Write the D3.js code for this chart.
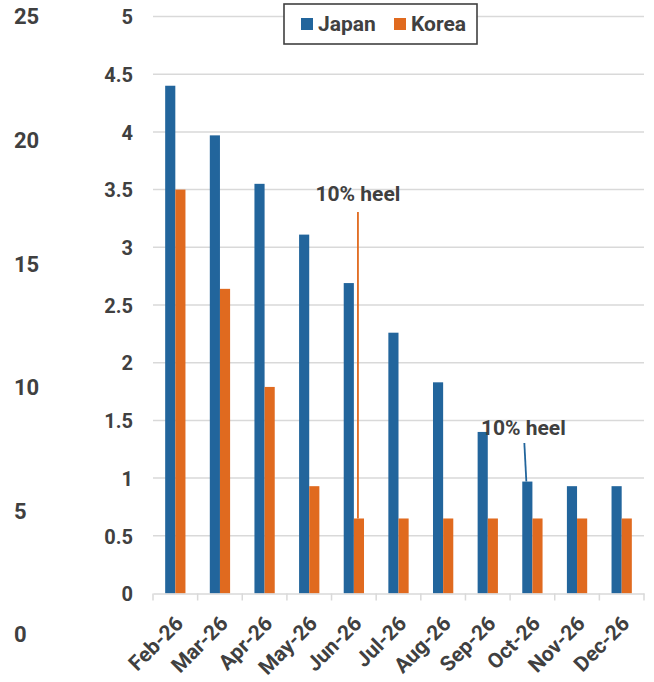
<!DOCTYPE html>
<html>
<head>
<meta charset="utf-8">
<script src="https://cdn.jsdelivr.net/npm/d3@7"></script>
<style>
  html, body { margin: 0; padding: 0; background: #fff; }
  svg text { font-family: Roboto, "Noto Sans", sans-serif; font-weight: 700; fill: #404040; }
</style>
</head>
<body>
<svg id="chart" width="654" height="682"></svg>
<script>
// Monthly values per series
const months = ["Feb-26", "Mar-26", "Apr-26", "May-26", "Jun-26", "Jul-26",
                "Aug-26", "Sep-26", "Oct-26", "Nov-26", "Dec-26"];
const seriesNames = ["Japan", "Korea"];
const japanValues = [4.40, 3.97, 3.55, 3.11, 2.69, 2.26, 1.83, 1.40, 0.97, 0.93, 0.93];
const koreaValues = [3.50, 2.64, 1.79, 0.93, 0.65, 0.65, 0.65, 0.65, 0.65, 0.65, 0.65];
const seriesColors = ["#22659c", "#e06a1f"];

// Axis tick labels
const primaryTicks = [0, 0.5, 1, 1.5, 2, 2.5, 3, 3.5, 4, 4.5, 5];
const primaryTickLabels = ["0", "0.5", "1", "1.5", "2", "2.5", "3", "3.5", "4", "4.5", "5"];
const secondaryTicks = [0, 5, 10, 15, 20, 25];

// Callouts: label, month, series
const calloutTexts = ["10% heel", "10% heel"];
const calloutMonths = ["Jun-26", "Oct-26"];
const calloutSeries = ["Korea", "Japan"];

const valuesBySeries = { Japan: japanValues, Korea: koreaValues };
const rows = months.map((m, i) => ({ month: m, Japan: japanValues[i], Korea: koreaValues[i] }));

const svg = d3.select("#chart");
const plot = { left: 153, right: 644, top: 16.5, bottom: 593.5 };

const x0 = d3.scaleBand().domain(months).range([plot.left, plot.right]).padding(0);
const x1 = d3.scaleBand().domain(seriesNames).range([0, x0.bandwidth()])
  .paddingInner(0).paddingOuter(1.2);
const y = d3.scaleLinear().domain([0, 5]).range([plot.bottom, plot.top]);
const y2 = d3.scaleLinear().domain([0, 25]).range([634, 16]);
const color = d3.scaleOrdinal().domain(seriesNames).range(seriesColors);

// Horizontal gridlines
svg.append("g")
  .selectAll("line")
  .data(primaryTicks.filter(t => t > 0))
  .join("line")
  .attr("x1", plot.left).attr("x2", plot.right)
  .attr("y1", d => y(d)).attr("y2", d => y(d))
  .attr("stroke", "#d9d9d9").attr("stroke-width", 1.5);

// Primary value axis (labels only)
const yAxis = svg.append("g")
  .attr("transform", `translate(${plot.left - 20},0)`)
  .call(d3.axisLeft(y).tickValues(primaryTicks)
    .tickFormat((d, i) => primaryTickLabels[i]).tickSize(0).tickPadding(0));
yAxis.select(".domain").remove();
yAxis.selectAll("text").style("font-size", "20px").attr("dy", "0.36em");

// Secondary axis labels on the far left
const y2Axis = svg.append("g")
  .attr("transform", "translate(14,0)")
  .call(d3.axisRight(y2).tickValues(secondaryTicks).tickSize(0).tickPadding(0));
y2Axis.select(".domain").remove();
y2Axis.selectAll("text").style("font-size", "22px").attr("dy", "0.36em")
  .attr("text-anchor", "start");

// Bars
const groups = svg.append("g")
  .selectAll("g")
  .data(rows)
  .join("g")
  .attr("transform", d => `translate(${x0(d.month)},0)`);

groups.selectAll("rect")
  .data(d => seriesNames.map(s => ({ key: s, value: d[s] })))
  .join("rect")
  .attr("x", d => x1(d.key))
  .attr("width", x1.bandwidth())
  .attr("y", d => y(d.value))
  .attr("height", d => y(0) - y(d.value))
  .attr("fill", d => color(d.key));

// Category axis
const xAxis = svg.append("g")
  .attr("transform", `translate(0,${plot.bottom})`)
  .call(d3.axisBottom(x0).tickSize(0).tickPadding(0));
xAxis.select(".domain").attr("stroke", "#d9d9d9").attr("stroke-width", 1.5);
xAxis.selectAll(".tick text")
  .style("font-size", "21px")
  .attr("text-anchor", "end")
  .attr("transform", "translate(4,26) rotate(-45)")
  .attr("dy", "0.35em")
  .attr("y", 0);
// Tick marks between categories
svg.append("g")
  .selectAll("line")
  .data(months.map(m => x0(m)).concat([plot.right]))
  .join("line")
  .attr("x1", d => d).attr("x2", d => d)
  .attr("y1", plot.bottom).attr("y2", plot.bottom + 7)
  .attr("stroke", "#d9d9d9").attr("stroke-width", 1.5);

// Callouts: text baseline, leader start, and a small horizontal lean at the top
const calloutBaseline = [201, 435];
const calloutLineTop = [212, 443];
const calloutLean = [0, -2];
const calloutShift = [0, -3];
calloutTexts.forEach((t, i) => {
  const m = calloutMonths[i], s = calloutSeries[i];
  const idx = months.indexOf(m);
  const cx = x0(m) + x1(s) + x1.bandwidth() / 2 - 1;
  const vy = y(valuesBySeries[s][idx]);
  svg.append("line")
    .attr("x1", cx + calloutLean[i]).attr("x2", cx)
    .attr("y1", calloutLineTop[i]).attr("y2", vy)
    .attr("stroke", color(s)).attr("stroke-width", 1.8);
  svg.append("text")
    .attr("x", cx + calloutShift[i]).attr("y", calloutBaseline[i])
    .attr("text-anchor", "middle")
    .style("font-size", "21px")
    .text(t);
});

// Legend
const legend = svg.append("g").attr("transform", "translate(284,4)");
legend.append("rect")
  .attr("width", 193).attr("height", 40)
  .attr("fill", "#fff").attr("stroke", "#404040").attr("stroke-width", 1.6);
const legendX = [17, 110];
seriesNames.forEach((s, i) => {
  legend.append("rect")
    .attr("x", legendX[i]).attr("y", 14).attr("width", 12).attr("height", 12)
    .attr("fill", color(s));
  legend.append("text")
    .attr("x", legendX[i] + 17).attr("y", 27)
    .style("font-size", "21px")
    .text(s);
});
</script>
</body>
</html>
